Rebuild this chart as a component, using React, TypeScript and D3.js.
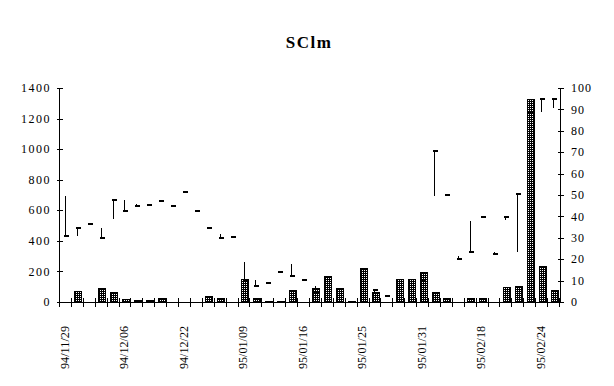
import * as d3 from "d3";
import React from "react";

// volume (left axis), one per trading day
const volume = [
	0, 72, 0, 90, 65, 18, 15, 10, 25, 0, 0, 0, 38, 25, 0, 150, 25, 6, 6, 78, 0,
	92, 170, 92, 6, 222, 65, 0, 150, 150, 196, 65, 25, 0, 25, 25, 0, 98, 105,
	1328, 236, 78,
];

// high / low / close (right axis), null = no trade
const high = [
	49.5, 34.9, 36.4, 34.6, 47.7, 47.7, 45.7, 45.4, 47.4, 45.5, 51.3, 42.4, 34.6,
	31.8, 30.6, 18.7, 10.3, 9.1, 14.2, 17.8, 10.3, 7.5, null, null, null, null,
	5.6, 2.8, null, null, 10.5, 70.6, 50.2, 21.4, 37.9, 39.8, 23.2, 40.2, 50.5,
	88.8, 94.9, 94.9,
];
const low = [
	31.0, 31.0, 36.4, 30.0, 38.9, 42.5, 44.5, 44.8, 47.4, 44.6, 51.3, 42.4, 34.6,
	29.6, 29.8, 10.3, 7.5, 9.1, 14.2, 12.1, 10.3, 4.7, null, null, null, null,
	4.6, 2.8, null, null, 10.5, 49.5, 50.2, 20.3, 23.4, 39.4, 22.2, 38.3, 23.4,
	88.8, 88.8, 90.7,
];
const close = [
	31.0, 34.7, 36.4, 30.0, 47.5, 42.5, 45.0, 45.1, 47.4, 45.0, 51.3, 42.4, 34.6,
	30.0, 30.2, 10.3, 7.5, 9.1, 14.2, 12.1, 10.3, 4.9, null, null, null, null,
	5.6, 2.8, null, null, 10.5, 70.6, 50.2, 20.3, 23.4, 39.6, 22.2, 39.8, 50.3,
	88.8, 94.9, 94.9,
];

// labels shown on every 5th day
const dateLabels = [
	"94/11/29",
	"94/12/06",
	"94/12/22",
	"95/01/09",
	"95/01/16",
	"95/01/25",
	"95/01/31",
	"95/02/18",
	"95/02/24",
];
const leftTicks = [0, 200, 400, 600, 800, 1000, 1200, 1400];
const rightTicks = [0, 10, 20, 30, 40, 50, 60, 70, 80, 90, 100];

const useD3 = (renderChartFn, dependencies) => {
	const ref = React.useRef(null);
	React.useEffect(() => {
		renderChartFn(d3.select(ref.current));
	}, dependencies);
	return ref;
};

export default function App() {
	const width = 614;
	const height = 386;
	const margin = { top: 88, right: 54, bottom: 84, left: 60 };

	const ref = useD3((svg) => {
		svg.selectAll("*").remove();
		const font = "'Liberation Serif', 'Times New Roman', serif";
		const idx = volume.map((_, i) => i);

		const x = d3
			.scaleBand()
			.domain(idx)
			.range([margin.left, width - margin.right]);
		const yL = d3
			.scaleLinear()
			.domain([0, 1400])
			.range([height - margin.bottom, margin.top]);
		const yR = d3
			.scaleLinear()
			.domain([0, 100])
			.range([height - margin.bottom, margin.top]);
		const cx = (i) => x(i) + x.bandwidth() / 2;
		const y0 = yL(0);

		const pat = svg
			.append("defs")
			.append("pattern")
			.attr("id", "dots")
			.attr("patternUnits", "userSpaceOnUse")
			.attr("width", 2)
			.attr("height", 2);
		pat.append("rect").attr("width", 2).attr("height", 2).attr("fill", "#000");
		pat.append("rect").attr("width", 1).attr("height", 1).attr("fill", "#fff");

		svg
			.append("rect")
			.attr("width", width)
			.attr("height", height)
			.attr("fill", "#fff");

		// title
		svg
			.append("text")
			.attr("x", 309)
			.attr("y", 48)
			.attr("text-anchor", "middle")
			.attr("font-family", font)
			.attr("font-weight", "bold")
			.attr("font-size", 17)
			.attr("letter-spacing", 1.5)
			.text("SClm");

		// volume bars
		svg
			.append("g")
			.attr("shape-rendering", "crispEdges")
			.selectAll("rect")
			.data(idx.filter((i) => volume[i] > 0))
			.join("rect")
			.attr("x", (i) => Math.round(cx(i) - 3.5))
			.attr("width", 7)
			.attr("y", (i) => Math.round(yL(volume[i])))
			.attr("height", (i) => Math.max(1, Math.round(y0 - yL(volume[i]))))
			.attr("fill", "url(#dots)")
			.attr("stroke", "#000")
			.attr("stroke-width", 1);

		// high-low lines and close dashes
		const hlc = svg
			.append("g")
			.attr("shape-rendering", "crispEdges")
			.attr("stroke", "#000");
		const priced = idx.filter((i) => close[i] != null);
		hlc
			.selectAll("line.hl")
			.data(priced.filter((i) => high[i] - low[i] > 0.3))
			.join("line")
			.attr("class", "hl")
			.attr("x1", (i) => Math.round(cx(i)) - 0.5)
			.attr("x2", (i) => Math.round(cx(i)) - 0.5)
			.attr("y1", (i) => yR(high[i]))
			.attr("y2", (i) => yR(low[i]))
			.attr("stroke-width", 1);
		hlc
			.selectAll("line.cl")
			.data(priced)
			.join("line")
			.attr("class", "cl")
			.attr("x1", (i) => Math.round(cx(i)) - 2)
			.attr("x2", (i) => Math.round(cx(i)) + 3)
			.attr("y1", (i) => Math.round(yR(close[i])))
			.attr("y2", (i) => Math.round(yR(close[i])))
			.attr("stroke-width", 2);

		// axes
		const ax = svg
			.append("g")
			.attr("stroke", "#000")
			.attr("stroke-width", 1)
			.attr("shape-rendering", "crispEdges");
		const xl = margin.left - 0.5;
		const xr = width - margin.right + 0.5;
		ax.append("line").attr("x1", xl).attr("x2", xl).attr("y1", yL(1400)).attr("y2", y0);
		ax.append("line").attr("x1", xr).attr("x2", xr).attr("y1", yR(100)).attr("y2", y0);
		ax.append("line").attr("x1", xl).attr("x2", xr).attr("y1", y0 + 0.5).attr("y2", y0 + 0.5);

		ax.selectAll("line.lt")
			.data(leftTicks)
			.join("line")
			.attr("class", "lt")
			.attr("x1", xl - 3)
			.attr("x2", xl + 3)
			.attr("y1", (d) => Math.round(yL(d)) + 0.5)
			.attr("y2", (d) => Math.round(yL(d)) + 0.5);
		ax.selectAll("line.rt")
			.data(rightTicks)
			.join("line")
			.attr("class", "rt")
			.attr("x1", xr - 3)
			.attr("x2", xr + 3)
			.attr("y1", (d) => Math.round(yR(d)) + 0.5)
			.attr("y2", (d) => Math.round(yR(d)) + 0.5);
		const bounds = idx.map((i) => x(i)).concat([width - margin.right]);
		ax.selectAll("line.xt")
			.data(bounds)
			.join("line")
			.attr("class", "xt")
			.attr("x1", (d) => Math.round(d) - 0.5)
			.attr("x2", (d) => Math.round(d) - 0.5)
			.attr("y1", y0 - 4)
			.attr("y2", y0 + 5);

		const labels = svg
			.append("g")
			.attr("font-family", font)
			.attr("font-size", 12)
			.attr("fill", "#000");
		labels
			.selectAll("text.l")
			.data(leftTicks)
			.join("text")
			.attr("class", "l")
			.attr("x", 51)
			.attr("y", (d) => yL(d))
			.attr("dy", "0.35em")
			.attr("text-anchor", "end")
			.attr("letter-spacing", 1.5)
			.text((d) => d);
		labels
			.selectAll("text.r")
			.data(rightTicks)
			.join("text")
			.attr("class", "r")
			.attr("x", 571)
			.attr("y", (d) => yR(d))
			.attr("dy", "0.35em")
			.attr("letter-spacing", 1)
			.text((d) => d);
		labels
			.selectAll("text.x")
			.data(dateLabels)
			.join("text")
			.attr("class", "x")
			.attr("font-size", 13)
			.attr("text-anchor", "end")
			.attr("textLength", 43)
			.attr("lengthAdjust", "spacingAndGlyphs")
			.attr("transform", (d, k) => `translate(${cx(k * 5) - 2},326) rotate(-90)`)
			.attr("dy", "0.35em")
			.text((d) => d);
	}, []);

	return (
		<svg
			ref={ref}
			width={width}
			height={height}
			style={{ position: "absolute", left: 0, top: 0 }}
		/>
	);
}
